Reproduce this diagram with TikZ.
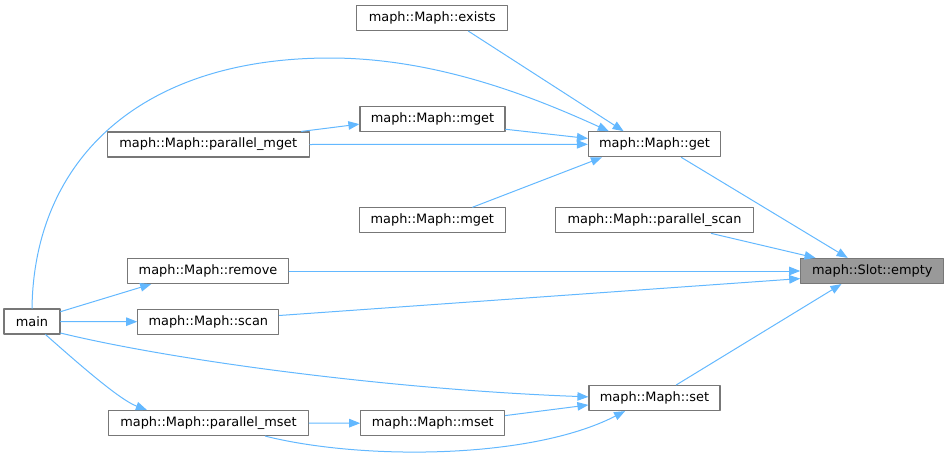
\documentclass[tikz,border=0pt]{standalone}
\usepackage{fontspec}
\setmainfont{DejaVu Sans}
\usetikzlibrary{arrows.meta}
\definecolor{edgeblue}{HTML}{63B8FF}
\definecolor{boxline}{HTML}{777777}
\definecolor{rootfill}{HTML}{999999}

\begin{document}
\begin{tikzpicture}[line cap=round,line join=round,x=1pt,y=-1pt,
  fnbox/.style={draw=boxline,fill=white,line width=1.2pt,minimum height=25pt,inner sep=0pt,
    font=\fontsize{12.9}{15}\selectfont},
  call/.style={draw=edgeblue,line width=1pt,-{Triangle[length=11pt,width=8.5pt]}}]
	\useasboundingbox (0,0) rectangle (949,460);
	% function boxes
	\node[fnbox,minimum width=56pt] (main) at (32,321.5) {main};
	\node[fnbox,minimum width=202pt] (pmget) at (208.3,144.5) {maph::Maph::parallel\_mget};
	\node[fnbox,minimum width=161pt] (remove) at (208,271) {maph::Maph::remove};
	\node[fnbox,minimum width=141pt] (scan) at (208.3,321.7) {maph::Maph::scan};
	\node[fnbox,minimum width=200pt] (pmset) at (208.5,423) {maph::Maph::parallel\_mset};
	\node[fnbox,minimum width=151pt] (exists) at (432.3,18) {maph::Maph::exists};
	\node[fnbox,minimum width=145pt] (mgeta) at (432.5,119) {maph::Maph::mget};
	\node[fnbox,minimum width=146pt] (mgetb) at (432.3,220.3) {maph::Maph::mget};
	\node[fnbox,minimum width=144pt] (mset) at (432.8,423.2) {maph::Maph::mset};
	\node[fnbox,minimum width=132pt] (get) at (654.5,144.3) {maph::Maph::get};
	\node[fnbox,minimum width=197.6pt] (pscan) at (654.5,220.3) {maph::Maph::parallel\_scan};
	\node[fnbox,minimum width=131pt] (set) at (654.5,398) {maph::Maph::set};
	\node[fnbox,fill=rootfill,minimum width=143pt] (empty) at (872.3,271) {maph::Slot::empty};

	% calls into get
	\draw [call] (exists.-20) -- (get.157);
	\draw [call] (mgeta.-8) -- (get.175);
	\draw [call] (pmget.east) -- (get.west);
	\draw [call] (mgetb.18) -- (get.194);
	\draw [call] (pmget.8) -- (mgeta.184);
	\draw [call] (main.north) .. controls (34,160) and (140,58) .. (330,58)
		.. controls (440,58) and (540,100) .. (get.164);

	% calls into empty
	\draw [call] (get.-26) -- (empty.152);
	\draw [call] (pscan.-13) -- (empty.167);
	\draw [call] (remove.east) -- (empty.west);
	\draw [call] (scan.5) -- (empty.186);
	\draw [call] (set.31) -- (empty.203);

	% calls from main and the set side
	\draw [call] (main.19) -- (remove.193);
	\draw [call] (main.east) -- (scan.west);
	\draw [call] (main.-22) .. controls (180,362) and (400,390) .. (set.179);
	\draw [call] (main.-44) .. controls (80,365) and (120,400) .. (pmset.168);
	\draw [call] (pmset.east) -- (mset.west);
	\draw [call] (mset.6) -- (set.186);
	\draw [call] (pmset.-13) .. controls (360,460) and (530,460) .. (set.204);
\end{tikzpicture}
\end{document}
